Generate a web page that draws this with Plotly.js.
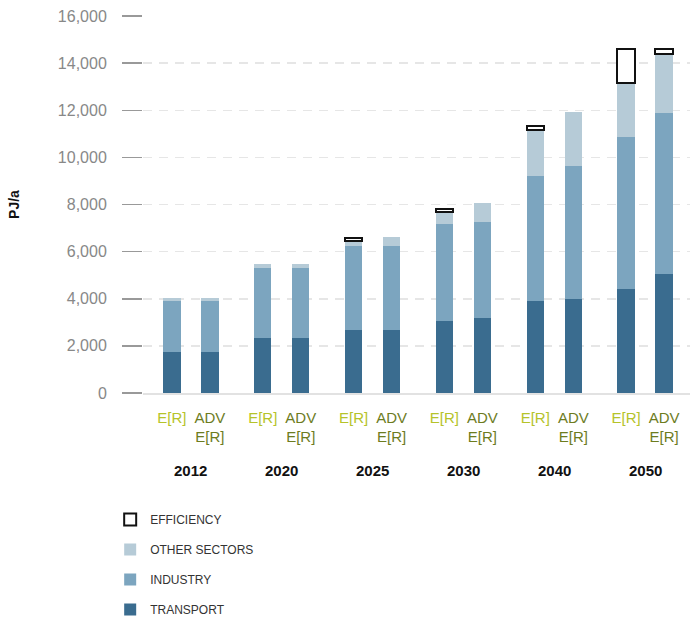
<!DOCTYPE html>
<html>
<head>
<meta charset="utf-8">
<script src="https://cdn.plot.ly/plotly-3.0.1.min.js"></script>
<style>html,body{margin:0;padding:0;background:#fff;}#chart{width:690px;height:624px;}</style>
</head>
<body>
<div id="chart"></div>
<script>
const years = ['2012', '2020', '2025', '2030', '2040', '2050'];
const scenarioLabels = ['E[R]', 'ADV<br>E[R]'];
const scenarioColors = ['#b5c32a', '#6d7c1e'];

const transportER  = [1730, 2340, 2670, 3060, 3890, 4410];
const transportADV = [1730, 2340, 2670, 3170, 3990, 5030];
const industryER   = [2160, 2975, 3565, 4120, 5330, 6470];
const industryADV  = [2160, 2975, 3565, 4100, 5650, 6835];
const otherER      = [160, 170, 210, 510, 1955, 2270];
const otherADV     = [160, 170, 380, 775, 2300, 2510];
const efficiencyER  = [null, null, 145, 140, 140, 1440];
const efficiencyADV = [null, null, null, null, null, 210];

const GROUP_STEP = 2.39;
const xs = [], tickText = [];
years.forEach((y, g) => {
  xs.push(g * GROUP_STEP, g * GROUP_STEP + 1);
  tickText.push(
    '<span style="color:' + scenarioColors[0] + '">' + scenarioLabels[0] + '</span>',
    '<span style="color:' + scenarioColors[1] + '">' + scenarioLabels[1] + '</span>'
  );
});
function interleave(a, b) {
  const out = [];
  a.forEach((v, i) => { out.push(v, b[i]); });
  return out;
}

const BAR_W = 0.46;
function barTrace(name, er, adv, color, lineColor, lineWidth, rank) {
  return {
    type: 'bar', name: name, legendgroup: name, legendrank: rank,
    x: xs, y: interleave(er, adv), width: BAR_W,
    marker: {color: color, line: {color: lineColor, width: lineWidth}},
    hoverinfo: 'skip'
  };
}

const traces = [
  barTrace('TRANSPORT', transportER, transportADV, '#3a6c8f', '#3a6c8f', 0, 4),
  barTrace('INDUSTRY', industryER, industryADV, '#7ca5bf', '#7ca5bf', 0, 3),
  barTrace('OTHER SECTORS', otherER, otherADV, '#b6cbd7', '#b6cbd7', 0, 2),
  barTrace('EFFICIENCY', efficiencyER, efficiencyADV, '#ffffff', '#111111', 2, 1)
];

const annotations = years.map((y, g) => ({
  x: g * GROUP_STEP + 0.5, xref: 'x',
  y: -0.205, yref: 'paper', yanchor: 'middle',
  text: '<b>' + y + '</b>', showarrow: false,
  font: {family: 'Liberation Sans, Arial, sans-serif', size: 15, color: '#111'}
}));

const layout = {
  width: 690, height: 624,
  margin: {l: 143, r: 0, t: 16, b: 230},
  paper_bgcolor: '#fff', plot_bgcolor: '#fff',
  barmode: 'stack',
  showlegend: true,
  font: {family: 'Liberation Sans, Arial, sans-serif'},
  xaxis: {
    range: [-0.76, 13.63],
    tickmode: 'array', tickvals: xs, ticktext: tickText,
    ticks: 'outside', ticklen: 10, tickcolor: 'rgba(0,0,0,0)',
    tickfont: {size: 15, family: 'Liberation Sans, Arial, sans-serif'},
    showgrid: false, zeroline: false,
    showline: true, linecolor: '#e2e2e2', linewidth: 1.5,
    fixedrange: true
  },
  yaxis: {
    range: [0, 16000], tickvals: [0, 2000, 4000, 6000, 8000, 10000, 12000, 14000, 16000],
    tickformat: ',',
    ticks: 'outside', ticklen: 20, tickcolor: '#999', tickwidth: 1.5,
    ticklabelstandoff: 12,
    tickfont: {size: 16, color: '#888'},
    showgrid: true, gridcolor: '#e6e6e6', gridwidth: 1.5, griddash: '9px,7px',
    zeroline: false, showline: false,
    title: {text: '<b>PJ/a</b>', font: {size: 14, color: '#111'}, standoff: 34},
    fixedrange: true
  },
  legend: {
    x: -0.060, xanchor: 'left', y: -0.298, yanchor: 'top',
    traceorder: 'grouped', tracegroupgap: 11,
    font: {size: 12, color: '#333'},
    bgcolor: 'rgba(0,0,0,0)'
  },
  annotations: annotations
};

Plotly.newPlot('chart', traces, layout, {displayModeBar: false, staticPlot: true});
</script>
</body>
</html>
